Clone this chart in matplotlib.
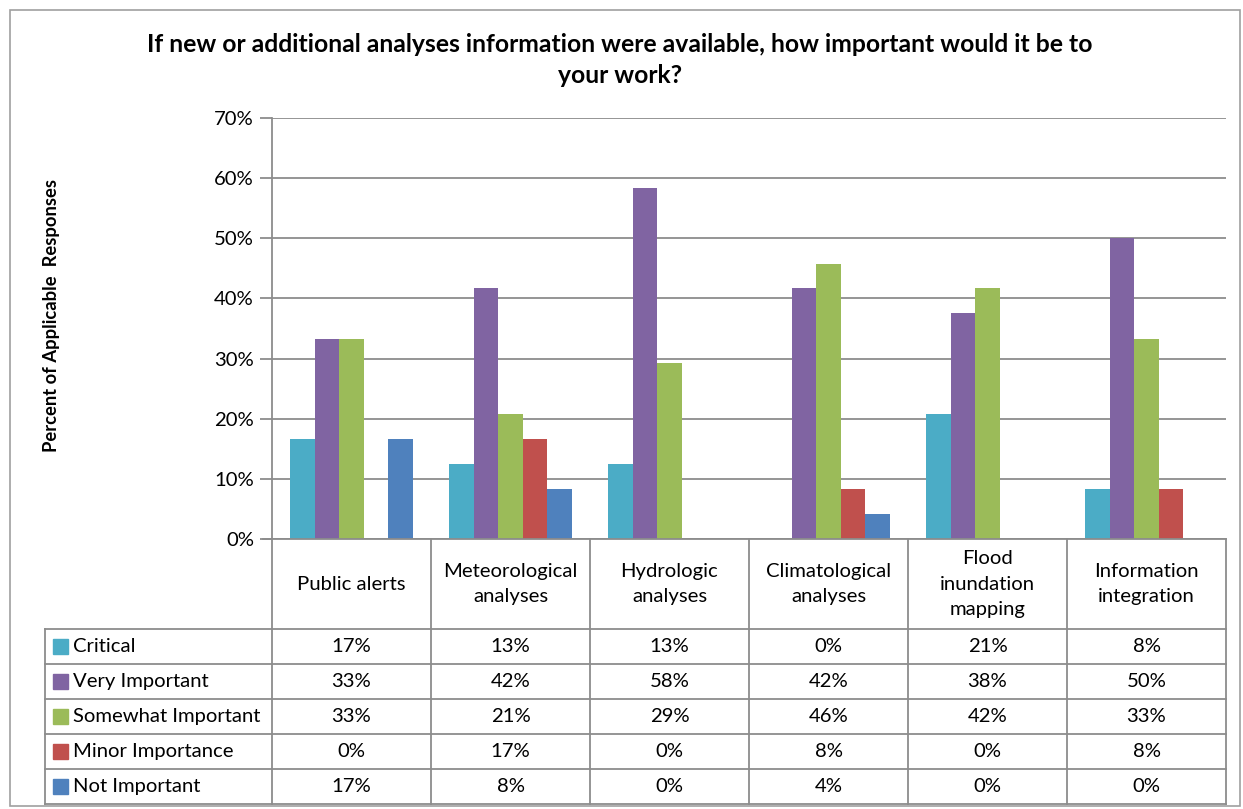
import numpy as np
import matplotlib.pyplot as plt
from matplotlib.lines import Line2D
from matplotlib.patches import Rectangle

# survey results, percent of applicable responses (24 respondents)
categories = ["Public alerts", "Meteorological\nanalyses", "Hydrologic\nanalyses",
              "Climatological\nanalyses", "Flood\ninundation\nmapping", "Information\nintegration"]
series_names = ["Critical", "Very Important", "Somewhat Important", "Minor Importance", "Not Important"]
critical = [16.7, 12.5, 12.5, 0.0, 20.8, 8.3]
very_important = [33.3, 41.7, 58.3, 41.7, 37.5, 50.0]
somewhat_important = [33.3, 20.8, 29.2, 45.8, 41.7, 33.3]
minor_importance = [0.0, 16.7, 0.0, 8.3, 0.0, 8.3]
not_important = [16.7, 8.3, 0.0, 4.2, 0.0, 0.0]
series_values = [critical, very_important, somewhat_important, minor_importance, not_important]
colors = ["#4BACC6", "#8064A2", "#9BBB59", "#C0504D", "#4F81BD"]

title = "If new or additional analyses information were available, how important would it be to\nyour work?"
ylabel = "Percent of Applicable  Responses"

plt.rcParams['font.family'] = ['Lato', 'DejaVu Sans']
W, H = 1243, 809
fig = plt.figure(figsize=(W / 100, H / 100), dpi=100)
grid_col = "#8C8C8C"
fs = 14.6

# pixel -> figure fraction helpers
def fx(x):
    return x / W

def fy(y):
    return 1 - y / H

# outer chart frame
fig.patches.append(Rectangle((fx(10), fy(806)), fx(1240) - fx(10), fy(10) - fy(806),
                             transform=fig.transFigure, fill=False, edgecolor="#A0A0A0", lw=1.2))

# plot area
left, right, top, bottom = 272, 1226, 118, 539
ax = fig.add_axes([fx(left), fy(bottom), fx(right) - fx(left), fy(top) - fy(bottom)])
n = len(series_names)
x = np.arange(len(categories))
bw = 1 / (n + 1.5)
for i, (vals, c) in enumerate(zip(series_values, colors)):
    ax.bar(x + (i - (n - 1) / 2) * bw, vals, width=bw, color=c, zorder=3)

ax.set_xlim(-0.5, len(categories) - 0.5)
ax.set_ylim(0, 70)
ax.set_yticks(np.arange(0, 71, 10))
ax.set_yticklabels([f"{v}%" for v in range(0, 71, 10)], fontsize=fs)
ax.set_xticks([])
ax.grid(axis='y', color=grid_col, lw=1.3, zorder=0)
for s in ['top', 'right', 'bottom']:
    ax.spines[s].set_visible(False)
ax.spines['left'].set_color(grid_col)
ax.spines['left'].set_linewidth(1.3)
ax.tick_params(axis='y', length=9, color=grid_col, width=1.3, pad=4, labelcolor="black")

fig.text(fx(620), fy(60), title, ha='center', va='center', fontsize=17.8,
         fontweight='bold', linespacing=1.45)
fig.text(fx(52), fy(315), ylabel, ha='center', va='center', rotation=90,
         fontsize=13.2, fontweight='bold')

# data table below the plot
col_edges = [left + k * (right - left) / len(categories) for k in range(len(categories) + 1)]
row_edges = [629, 664, 699, 734, 769, 804]
tleft = 45

def hline(y, x0, x1):
    fig.add_artist(Line2D([fx(x0), fx(x1)], [fy(y), fy(y)], color=grid_col, lw=1.3))

def vline(xp, y0, y1):
    fig.add_artist(Line2D([fx(xp), fx(xp)], [fy(y0), fy(y1)], color=grid_col, lw=1.3))

hline(bottom, left - 9, right)
for ry in row_edges:
    hline(ry, tleft, right)
for cx in col_edges:
    vline(cx, bottom, row_edges[-1])
vline(tleft, row_edges[0], row_edges[-1])

for k, cat in enumerate(categories):
    cx = (col_edges[k] + col_edges[k + 1]) / 2
    fig.text(fx(cx), fy((bottom + row_edges[0]) / 2), cat, ha='center', va='center',
             fontsize=fs, linespacing=1.6)

for r, (name, vals, c) in enumerate(zip(series_names, series_values, colors)):
    cy = (row_edges[r] + row_edges[r + 1]) / 2
    fig.patches.append(Rectangle((fx(53), fy(cy + 7)), fx(15), fy(0) - fy(15),
                                 transform=fig.transFigure, color=c))
    fig.text(fx(73), fy(cy), name, ha='left', va='center', fontsize=fs)
    for k, v in enumerate(vals):
        cx = (col_edges[k] + col_edges[k + 1]) / 2
        # round half up, as the table shows
        fig.text(fx(cx), fy(cy), f"{int(v + 0.5)}%", ha='center', va='center', fontsize=fs)

fig.savefig("out.png", dpi=100)
